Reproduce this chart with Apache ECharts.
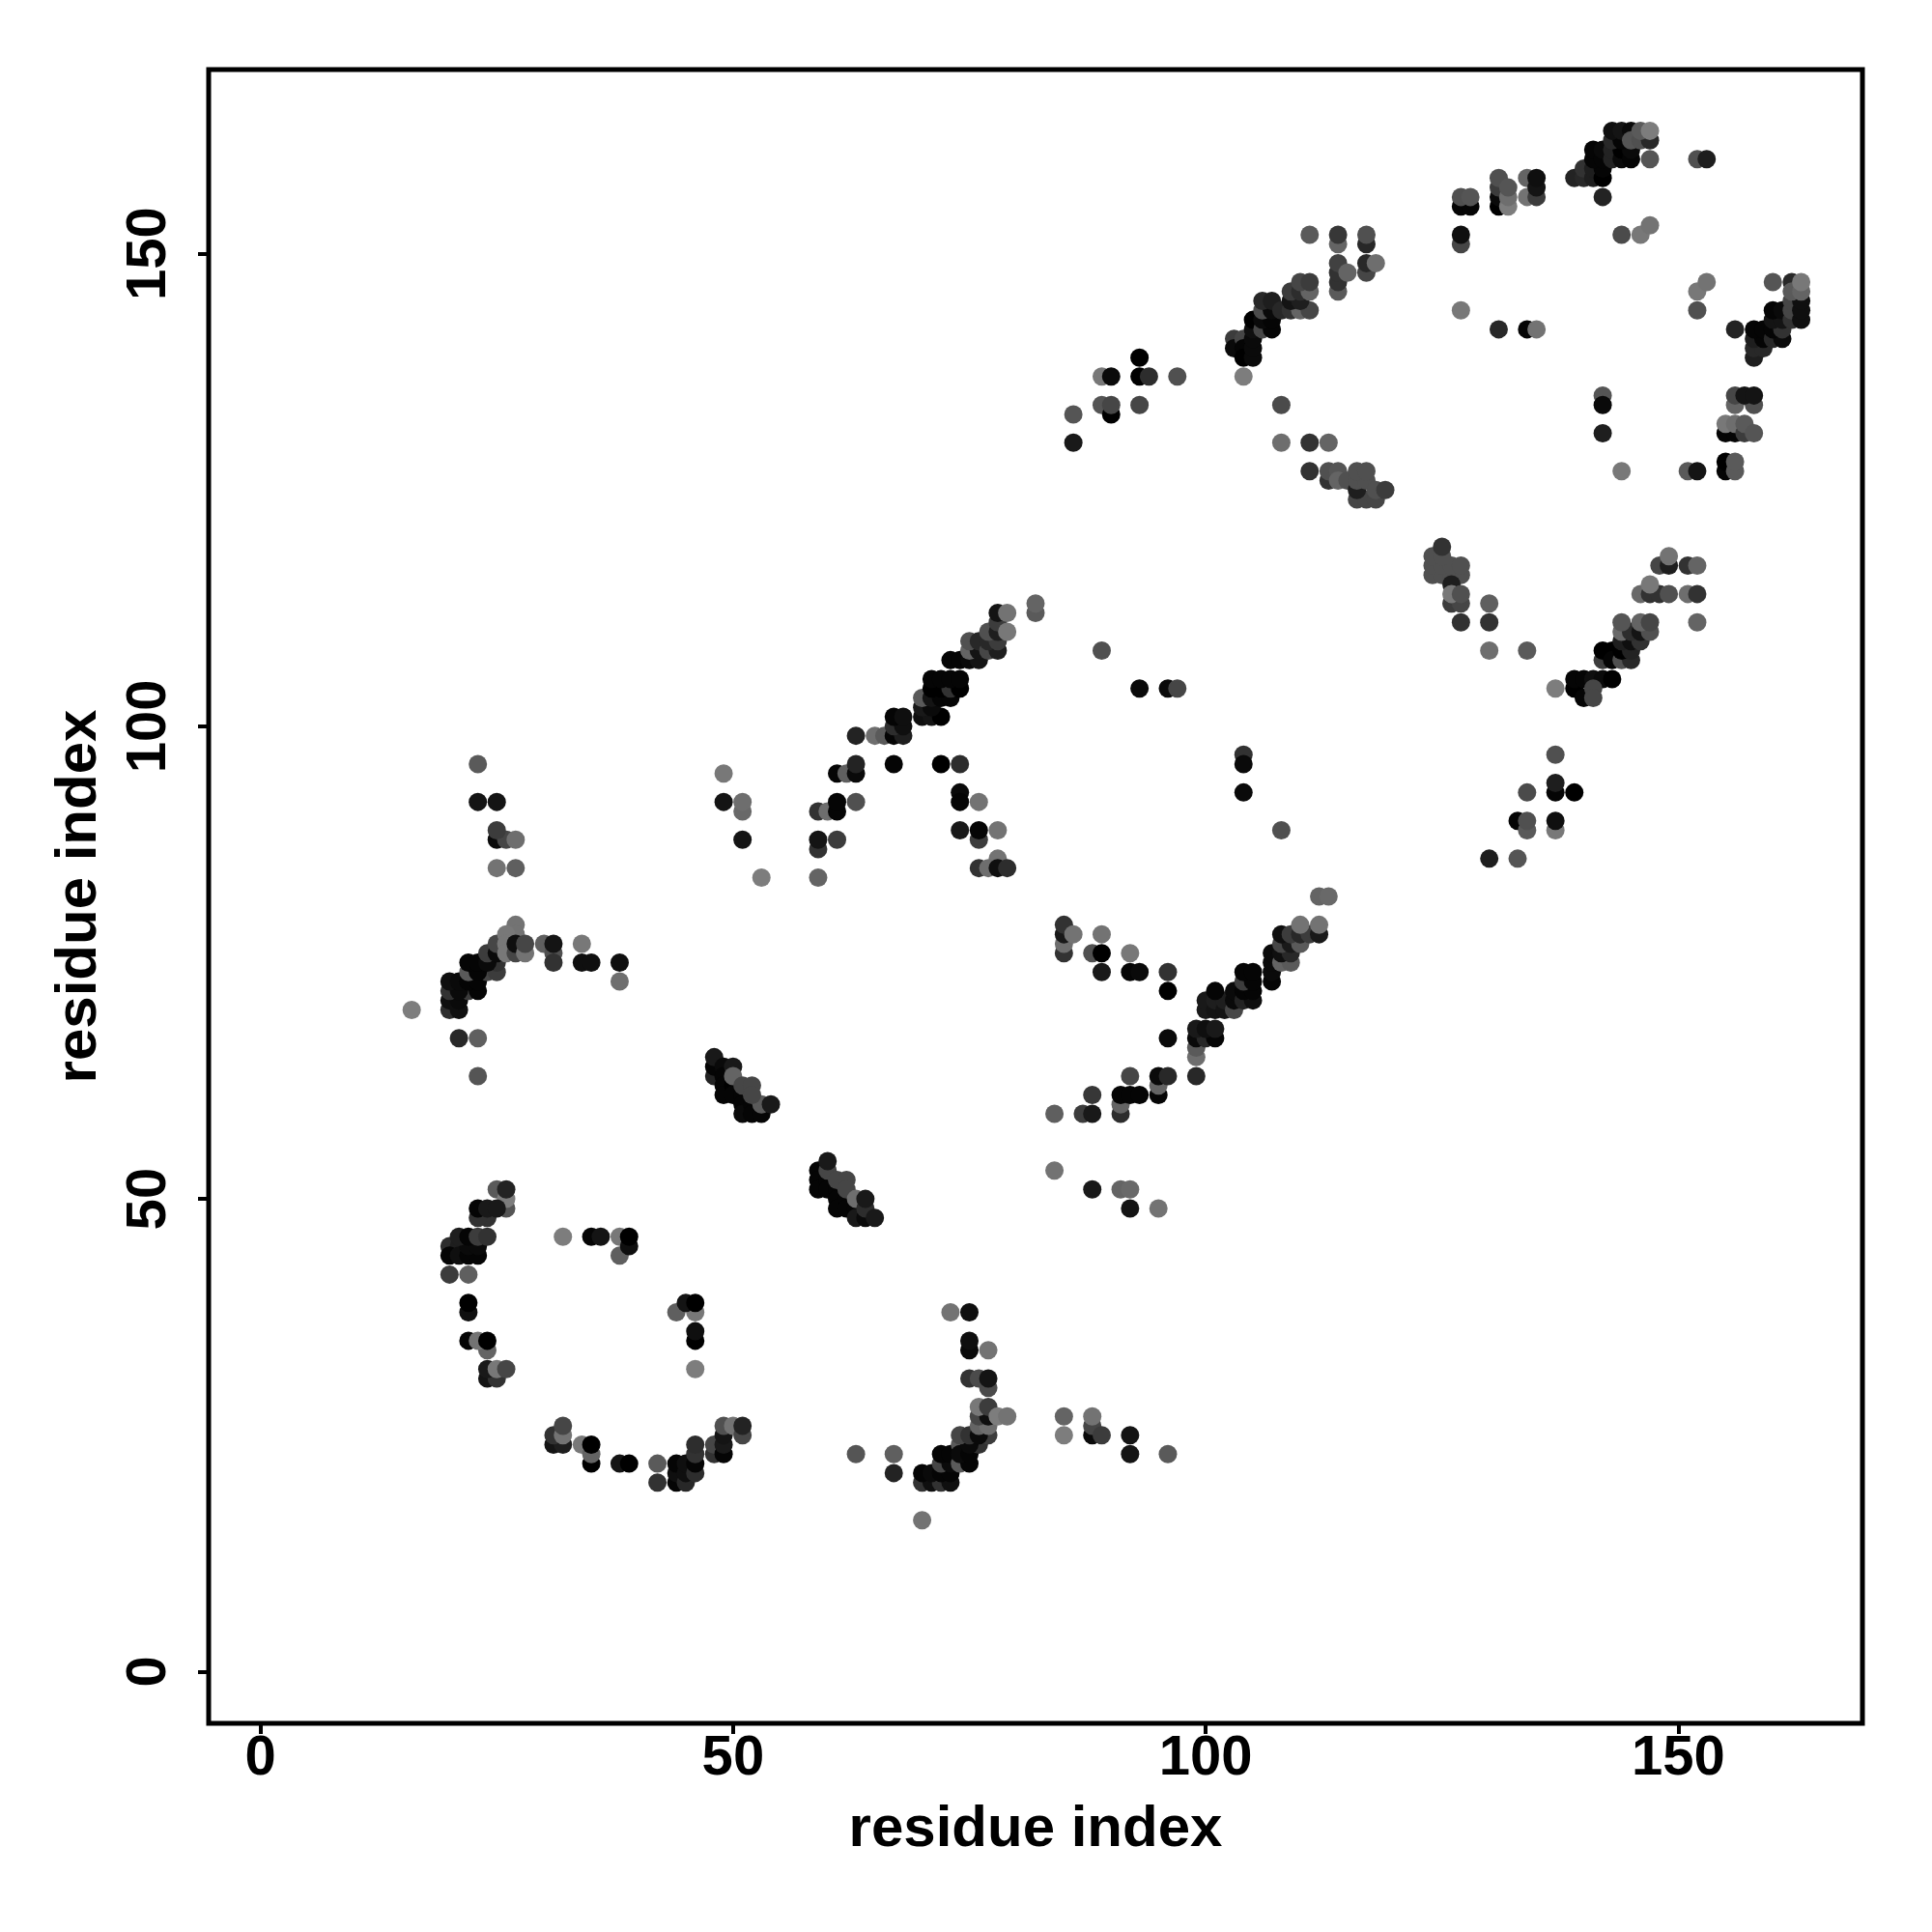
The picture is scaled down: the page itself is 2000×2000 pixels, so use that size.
<!DOCTYPE html>
<html><head><meta charset="utf-8">
<style>html,body{margin:0;padding:0;background:#fff}#c{width:2000px;height:2000px}</style>
<script src="https://cdn.jsdelivr.net/npm/echarts@6/dist/echarts.min.js"></script>
</head><body><div id="c"></div>
<script>
// each contact: [residue i, residue j, grey level]
const tickValues = [0, 50, 100, 150];
const axisTitle = 'residue index';
const topLeftStrand = [[23,96,90],[23,92,20],[25,92,20],[25,88,10],[26,88,70],[25,89,60],[27,88,110],[25,85,115],[27,85,95],
 [49,95,120],[49,92,20],[51,91,105],[51,92,110],[51,88,20],[53,84,125]];
const arcA = [[16,70,125],[20,70,45],[21,70,15],[20,71,15],[21,71,10],[20,72,50],[22,72,60],[21,72,10],[23,72,5],[20,73,15],[21,73,10],[22,73,5],[23,73,5],
 [22,74,90],[24,74,70],[25,74,60],[23,74,5],[22,75,5],[23,75,5],[25,75,50],[24,75,10],[24,76,60],[25,76,10],[25,77,70],
 [27,79,115],[27,78,115],[26,78,120],[26,77,120],[26,76,120],[27,76,70],[27,77,15],[28,76,115],[28,77,70],
 [30,77,95],[31,76,80],[31,75,50],[31,77,20],[34,77,120],[34,75,15],[35,75,15],[38,75,15],[38,73,110],
 [21,67,40],[23,67,95],[23,63,85]];
const helixA = [[48,63,35],[48,64,5],[48,65,25],[49,64,10],[49,63,5],[49,62,5],[49,61,5],[50,62,0],[50,61,5],[50,64,25],[50,63,100],
 [51,61,5],[51,60,5],[51,59,10],[52,60,5],[52,59,5],[53,59,5],[53,60,90],[51,62,70],[52,62,70],[52,61,70],[54,60,25]];
const helixB = [[59,53,5],[59,52,5],[59,51,5],[60,52,5],[60,51,5],[60,53,70],[60,54,25],[61,51,5],[61,50,5],[61,49,5],[62,50,5],[62,49,5],
 [61,52,70],[62,52,70],[62,51,70],[63,49,5],[63,50,110],[63,48,25],[64,48,10],[64,49,45],[64,50,25],[65,48,25]];
const arcB = [[25,51,90],[26,49,85],[26,50,125],[26,51,35],[24,48,50],[23,48,50],[23,49,5],[24,49,25],[25,49,25],
 [20,45,45],[21,45,30],[20,44,5],[21,44,15],[22,44,5],[23,44,5],[22,45,10],[23,45,10],[21,46,30],[22,46,5],[23,46,60],[24,46,50],
 [20,42,60],[22,42,95],[22,38,15],[22,39,0],[22,35,5],[24,34,100],[23,35,115],[24,35,0],
 [24,31,20],[25,31,50],[24,32,25],[25,32,120],[26,32,70],
 [32,46,125],[35,46,5],[36,46,20],[38,46,120],[38,44,95],[39,45,15],[39,46,0],
 [44,38,95],[46,38,120],[45,39,20],[46,39,0],[46,35,0],[46,36,15],[46,32,125]];
const arcC = [[31,24,20],[32,24,30],[31,25,50],[32,25,115],[32,26,70],[34,24,120],[35,22,0],[35,23,100],[35,24,0],[38,22,20],[39,22,0],
 [42,22,90],[42,20,50],[44,20,5],[44,21,15],[44,22,5],[45,20,40],[45,21,15],[45,22,15],[46,21,45],[46,22,5],[46,23,50],[46,24,45],
 [48,23,50],[48,24,70],[49,23,5],[49,24,25],[49,25,20],[49,26,80],[50,26,115],[51,25,70],[51,26,35]];
const arcD = [[63,23,85],[67,23,95],[67,21,35],[70,16,115],[70,20,50],[71,20,15],[72,20,50],[73,20,15],[70,21,5],[71,21,10],[72,21,5],[73,21,5],
 [72,22,70],[73,22,10],[72,23,5],[73,23,5],[74,22,90],[75,22,5],[74,24,90],[74,23,10],[75,23,5],[76,24,50],[75,24,10],[74,25,70],[75,25,50],
 [77,25,60],[76,25,10],[76,26,100],[77,26,110],[76,27,70],[77,27,15],[76,28,120],[77,28,60],[78,27,125],[79,27,115],
 [77,30,75],[75,31,50],[76,31,75],[77,31,20],[75,34,10],[75,35,15],[77,34,115],[73,38,115],[75,38,15],
 [85,27,100],[85,25,125],[88,25,10],[88,26,70],[88,27,115],[89,25,60],[92,25,20],[92,23,20],[96,23,90]];
const strandA = [[59,84,100],[59,87,50],[59,88,20],[59,91,50],[60,91,110],[61,91,5],[61,92,5],[63,92,80],[61,88,60],
 [61,95,5],[62,95,95],[63,95,10],[63,96,35],[63,99,35],[65,99,110],[66,99,90],
 [67,99,5],[68,99,30],[67,100,45],[68,100,15],[67,101,5],[68,101,15],[67,96,5],
 [70,101,15],[71,101,20],[72,101,0],[70,102,25],[71,102,10],[70,103,90],[71,103,20],[72,103,5],[73,103,5],
 [71,104,0],[72,104,0],[73,104,50],[74,104,0],[71,105,5],[72,105,5],[73,105,5],[74,105,5],
 [73,107,5],[74,107,5],[75,107,10],[76,107,20],[75,108,100],[76,108,20],[75,109,80],[76,109,40],[77,108,70],[78,108,30],[77,109,40],[78,109,60],
 [77,110,80],[78,110,30],[78,111,60],[79,110,120],[78,112,20],[79,112,115],[82,112,90],[82,113,100]];
const strandB = [[72,96,0],[74,96,45],[74,93,10],[74,92,5],[76,92,115],[74,89,25],[76,88,60],[76,89,5],[78,89,115],
 [78,86,115],[76,85,50],[77,85,110],[78,85,15],[79,85,45]];
const strandC = [[84,59,95],[84,53,115],[87,59,60],[88,59,25],[88,61,55],[88,51,25],[91,51,100],[92,51,105],[92,49,20],[95,49,115],
 [91,59,45],[91,60,100],[91,61,5],[92,61,5],[93,61,5],[92,63,70],[95,61,5],[95,62,100],[95,63,10],[96,63,40],[96,67,10],
 [99,63,40],[99,65,110],[99,66,90],[99,67,10],[100,67,40],[101,67,5],[99,68,25],[100,68,15],[101,68,25],
 [100,70,25],[100,71,25],[101,70,20],[101,71,30],[102,70,20],[102,71,30],[101,72,5],[103,70,70],[103,71,10],[103,72,10],
 [104,71,35],[105,71,15],[104,72,5],[105,72,5],[104,73,60],[105,73,5],[104,74,5],[105,74,5],
 [107,73,5],[107,74,10],[107,75,10],[107,76,10],[108,75,100],[109,75,90],[108,76,15],[109,76,40],[108,77,70],[109,77,25],[110,77,90],
 [108,78,15],[109,78,60],[110,78,40],[111,78,60],[110,79,115],[112,78,25],[112,79,115],[112,82,100],[113,82,105]];
const strandD = [[85,76,50],[85,77,110],[85,78,25],[85,79,50],[86,78,115],[89,78,115],[88,76,80],[89,76,0],[89,74,25],[92,76,120],[92,74,5],[93,74,10],
 [96,74,50],[96,72,0]];
const loopA = [[86,130,25],[86,133,85],[89,134,85],[90,133,0],[90,134,70],[93,134,70],[89,137,120],[90,137,10],[93,137,0],[94,137,45],[93,139,0],[97,137,80],[89,108,80],
 [93,104,10],[96,104,10],[97,104,70],[104,97,50],[104,96,10],[104,93,10],[108,89,80]];
const strandE = [[103,141,60],[103,140,10],[104,141,70],[104,140,5],[104,139,0],[105,139,10],[105,140,10],[105,141,10],[105,142,15],[105,143,0],[104,137,125],
 [106,142,70],[107,142,5],[106,143,10],[107,143,5],[106,144,75],[107,144,10],[106,145,40],[107,145,30],[108,144,40],
 [109,144,50],[110,144,100],[111,144,70],[109,145,20],[110,145,30],[109,146,60],[110,146,45],[111,146,100],[110,147,70],[111,147,60],
 [111,152,90],[114,146,90],[114,147,50],[114,148,50],[114,149,65],[115,148,100],[114,151,100],[114,152,55],[117,148,70],[117,149,40],[118,149,110],[117,151,40],[117,152,80]];
const clusterF = [[108,134,75],[108,130,110],[111,130,50],[113,130,100],[111,127,50],[113,126,50],[113,127,80],[114,127,85],[114,126,100],[115,126,80],
 [116,124,70],[117,124,70],[118,124,70],[116,125,30],[116,126,80],[117,126,80],[116,127,80],[117,127,80],[118,125,80],[119,125,60]];
const clusterG = [[124,116,80],[125,116,80],[126,116,80],[127,116,80],[124,117,80],[125,117,80],[126,117,80],[127,117,80],[124,118,80],[125,118,80],[125,119,50],[126,115,30],
 [126,113,60],[127,113,70],[126,114,120],[127,114,80],[127,111,50],[130,113,95],[130,111,50],[130,108,110],[134,108,90],
 [130,86,30],[133,86,85],[133,90,5],[134,89,90],[134,90,80],[134,93,75],[137,89,120],[137,90,15],[137,93,5],[137,94,30],[139,93,0],[137,97,80]];
const strandH = [[137,104,125],[139,104,0],[140,103,5],[139,105,5],[140,105,5],[141,105,15],[142,105,10],[143,105,0],[141,104,70],[141,103,70],
 [142,107,60],[142,108,0],[143,108,0],[143,107,5],[144,107,80],[145,107,40],[144,108,0],[145,108,35],[144,109,30],[145,109,15],[146,109,50],
 [144,110,105],[145,110,45],[146,110,20],[144,111,85],[147,110,80],[146,111,100],[147,111,70],
 [146,114,105],[147,114,50],[148,114,50],[149,114,80],[147,115,120],[148,117,70],[149,117,30],[149,118,115],[151,114,110],[152,114,50],[151,117,50],[152,117,100],[152,111,100]];
const topB = [[127,155,5],[128,155,5],[127,156,80],[128,156,85],[127,151,70],[127,152,15],[127,144,120],
 [131,155,0],[131,156,10],[131,157,60],[131,158,80],[132,155,125],[132,156,110],[132,157,85],
 [134,156,115],[134,158,100],[135,156,60],[135,157,20],[135,158,15],[131,142,40],[134,142,5],[135,142,115]];
const topC = [[139,158,35],[140,158,40],[140,159,50],[141,158,30],[141,159,30],[142,158,0],[142,159,5],[142,156,35],
 [141,160,5],[141,161,5],[142,160,5],[142,161,10],[143,160,35],[143,161,35],[144,160,10],[144,161,0],[145,160,5],[145,161,10],
 [143,162,40],[144,162,5],[143,163,15],[144,163,20],[145,163,10],[145,162,85],[146,162,80],[147,162,40],[146,163,90],[147,163,125],[147,160,85],
 [144,152,75],[146,152,120],[147,153,115],[152,160,80],[153,160,30]];
const topD = [[142,135,85],[142,134,10],[142,131,30],[144,127,120],[151,127,90],[152,127,20],[152,144,80],[152,146,120],[153,147,115],
 [155,127,5],[155,128,0],[156,127,90],[156,128,90],[155,131,5],[156,131,5],[155,132,120],[156,132,110],[157,131,60],[157,132,90],[158,131,85],
 [156,134,100],[158,134,80],[156,135,70],[157,135,20],[158,135,20]];
const topE = [[156,142,35],[158,139,30],[158,140,40],[159,140,40],[158,141,30],[159,141,5],[158,142,5],[159,142,5],[160,141,40],[161,141,10],[160,142,5],[161,142,50],
 [160,143,20],[161,143,20],[160,144,5],[161,144,10],[162,143,50],[162,144,70],[162,145,70],[163,143,15],[163,144,15],[163,145,15],[160,147,85],[162,147,40],[162,146,90],[163,146,100],[163,147,120]];

const contacts = [topLeftStrand, arcA, helixA, helixB, arcB, arcC, arcD, strandA, strandB, strandD, strandC, loopA, strandE, clusterF, clusterG, strandH, topB, topC, topD, topE].flat();

const tickFont = {fontFamily:'"Liberation Sans"', fontWeight:'bold', fontSize:58, color:'#000'};
const titleFont = {fontFamily:'"Liberation Sans"', fontWeight:'bold', fontSize:60, color:'#000'};
const chart = echarts.init(document.getElementById('c'), null, {renderer:'canvas'});
function axis(extra){
  return Object.assign({
    type:'value', min:-5.48, max:169.48, name:axisTitle, nameLocation:'middle',
    nameTextStyle:titleFont, splitLine:{show:false},
    axisLine:{show:false, onZero:false},
    axisTick:{show:true, length:11, lineStyle:{color:'#000', width:4}, customValues:tickValues}
  }, extra);
}
chart.setOption({
  animation:false,
  backgroundColor:'#fff',
  grid:{left:216, top:72, width:1712, height:1712, show:true, borderColor:'#000', borderWidth:5, backgroundColor:'transparent'},
  xAxis:axis({nameGap:80, axisLabel:Object.assign({},tickFont,{margin:8, customValues:tickValues, formatter:v=>String(v)})}),
  yAxis:axis({nameGap:104, axisLabel:Object.assign({},tickFont,{margin:61, rotate:90, customValues:tickValues, formatter:v=>String(v), align:'center', verticalAlign:'middle'})}),
  series:[{
    type:'scatter', symbol:'circle', symbolSize:19, silent:true, clip:false,
    data:contacts.map(c=>[c[0],c[1],c[2]]),
    itemStyle:{opacity:1, color:p=>{const g=p.value[2];return 'rgb('+g+','+g+','+g+')';}}
  }]
});
</script></body></html>
